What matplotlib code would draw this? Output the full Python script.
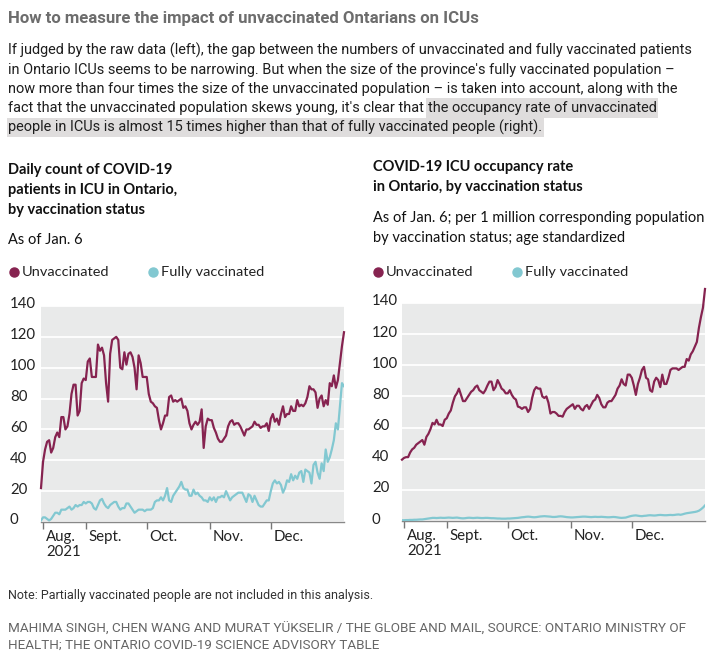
import numpy as np
import matplotlib
matplotlib.use("Agg")
import matplotlib.pyplot as plt
from matplotlib.lines import Line2D
from matplotlib.patches import Rectangle
import matplotlib.transforms as mtransforms

# ---------------- data ----------------
start_date = "2021-08-10"
end_date = "2022-01-07"  # exclusive

unvax_count = [22, 39, 47, 52, 53, 45, 48, 55, 58, 55,
               68, 68, 60, 62, 70, 83, 89, 89, 69, 72,
               90, 93, 92, 104, 106, 94, 94, 94, 115, 111,
               113, 108, 90, 78, 109, 118, 119, 120, 118, 100,
               99, 110, 102, 109, 110, 107, 100, 86, 108, 103,
               94, 94, 94, 83, 78, 77, 75, 74, 66, 60,
               64, 69, 69, 81, 82, 78, 79, 78, 79, 80,
               74, 75, 72, 64, 60, 63, 65, 63, 65, 73,
               48, 62, 67, 66, 66, 61, 58, 54, 52, 52,
               54, 56, 62, 65, 66, 63, 64, 64, 62, 59,
               56, 60, 60, 61, 62, 65, 63, 63, 61, 62,
               62, 64, 59, 67, 70, 65, 67, 63, 70, 75,
               68, 70, 70, 75, 72, 72, 79, 75, 76, 75,
               77, 81, 88, 86, 86, 84, 74, 80, 82, 75,
               79, 76, 90, 88, 95, 87, 92, 103, 114, 123]

vax_count = [1, 3, 3, 2, 1, 2, 4, 6, 6, 5,
             8, 8, 8, 9, 10, 8, 9, 11, 10, 11,
             11, 13, 12, 13, 13, 12, 9, 8, 11, 14,
             15, 12, 10, 9, 11, 12, 13, 13, 10, 8,
             9, 9, 12, 12, 10, 8, 6, 7, 8, 8,
             8, 7, 8, 8, 8, 9, 13, 14, 14, 16,
             14, 17, 22, 14, 13, 17, 19, 21, 23, 26,
             22, 21, 21, 17, 17, 21, 18, 19, 17, 16,
             14, 14, 13, 16, 14, 16, 13, 16, 16, 17,
             16, 20, 17, 14, 16, 17, 18, 19, 19, 19,
             16, 13, 18, 17, 13, 17, 14, 11, 10, 10,
             12, 14, 14, 20, 25, 27, 25, 26, 24, 19,
             22, 27, 26, 31, 27, 30, 28, 32, 33, 26,
             34, 33, 32, 25, 37, 39, 32, 28, 38, 33,
             47, 39, 42, 47, 53, 64, 60, 75, 90, 88]

unvax_rate = [39.4, 40.5, 41, 41, 44, 46, 47, 49, 50, 51,
              52, 49, 54, 56, 59, 63, 62, 65, 62, 62,
              61, 65, 66, 69, 71, 76, 80, 82, 85, 81,
              77, 77, 79, 81, 83, 84, 86, 87, 84, 83,
              82, 84, 87, 89.5, 89.5, 84, 86, 90.5, 88, 85,
              84, 82, 82, 84, 81, 79, 78, 73.5, 73, 72,
              73, 73, 70, 72, 79, 84, 86, 85, 85, 80,
              79, 80, 76, 69, 70, 70, 69, 67.5, 67.5, 67,
              70, 72, 73, 74, 75, 72, 74, 74, 72, 71,
              73.5, 74.5, 72, 74.5, 77, 78, 81, 79, 75, 73,
              73, 76, 77, 77, 79, 81, 85, 87, 91, 88,
              87, 94, 94, 92, 87, 81, 88, 92, 97, 99,
              92, 91, 84, 83, 89.5, 92, 90.5, 86, 94, 88,
              88, 92, 97, 98, 98, 98, 97, 98, 99, 99,
              104, 103, 107, 109, 112, 115, 124, 131, 137, 149]

vax_rate = [0.5, 0.5, 0.6, 0.6, 0.7, 0.7, 0.8, 0.8, 0.9, 1.0, 1.0,
            1.2, 1.4, 1.6, 1.8, 2.0, 2.0, 1.9, 2.0, 2.1, 2.0,
            2.0, 2.1, 2.2, 2.1, 2.0, 2.1, 2.2, 2.0, 1.8, 1.7,
            1.8, 2.0, 2.1, 2.0, 1.9, 2.0, 2.1, 2.0, 1.9, 1.9,
            2.0, 2.0, 1.9, 1.8, 1.8, 1.7, 1.6, 1.6, 1.5, 1.5,
            1.5, 1.6, 1.6, 1.7, 1.8, 1.9, 2.0, 2.2, 2.4, 2.5,
            2.7, 2.8, 2.7, 2.5, 2.4, 2.5, 2.7, 2.9, 3.0, 3.1,
            3.0, 2.9, 2.8, 2.6, 2.6, 2.7, 2.9, 3.0, 2.9, 2.7,
            2.5, 2.4, 2.3, 2.3, 2.4, 2.5, 2.6, 2.7, 2.8, 2.8,
            2.7, 2.6, 2.5, 2.6, 2.7, 2.6, 2.6, 2.7, 2.6, 2.5,
            2.4, 2.4, 2.5, 2.6, 2.5, 2.3, 2.1, 2.0, 2.1, 2.2,
            2.6, 3.0, 3.3, 3.5, 3.6, 3.4, 3.2, 3.1, 3.3, 3.4,
            3.6, 3.7, 3.6, 3.5, 3.6, 3.8, 3.9, 3.8, 3.7, 3.7,
            3.8, 3.9, 3.8, 3.9, 4.1, 4.2, 4.0, 4.3, 4.7, 5.0,
            5.2, 5.4, 5.6, 5.8, 6.1, 6.6, 7.5, 8.6, 10.0]

tick_dates = ["2021-08-11", "2021-09-01", "2021-10-01", "2021-11-01", "2021-12-01"]
tick_labels = ["Aug.\n2021", "Sept.", "Oct.", "Nov.", "Dec."]
y_ticks = [0, 20, 40, 60, 80, 100, 120, 140]
series_names = ["Unvaccinated", "Fully vaccinated"]

# ---------------- style ----------------
W, H = 713, 659
MAROON = "#862350"
CYAN = "#82c8d1"
BG = "#e9eaea"
COND = ["Roboto", "DejaVu Sans"]
SANS = ["Lato", "DejaVu Sans"]

fig = plt.figure(figsize=(W / 100, H / 100), dpi=100)
fig.patch.set_facecolor("white")
r = fig.canvas.get_renderer()


def fx(x):
    return x / W


def fy(y):
    return 1 - y / H


def rect(x0, y0, x1, y1):
    return [x0 / W, 1 - y1 / H, (x1 - x0) / W, (y1 - y0) / H]


def put(x, y, s, size, **kw):
    return fig.text(fx(x), fy(y), s, size=size, va="center", **kw)


def fitted_size(s, target_w, **kw):
    t = fig.text(0, 0, s, size=10, **kw)
    w = t.get_window_extent(r).width
    t.remove()
    return 10 * target_w / w


# ---------------- header text ----------------
title = "How to measure the impact of unvaccinated Ontarians on ICUs"
ts = fitted_size(title, 472, family=COND, weight="bold")
put(8, 18, title, ts, family=COND, weight="bold", color="#6d6d6d")

body_color = "#1e1e1e"
lines = [
    "If judged by the raw data (left), the gap between the numbers of unvaccinated and fully vaccinated patients",
    "in Ontario ICUs seems to be narrowing. But when the size of the province's fully vaccinated population \u2013",
    "now more than four times the size of the unvaccinated population \u2013 is taken into account, along with the",
]
bs = fitted_size(lines[0], 685, family=COND)
ys = [50, 70, 89]
for s, y in zip(lines, ys):
    put(8, y, s, bs, family=COND, color=body_color)

t4 = put(8, 108, "fact that the unvaccinated population skews young, it's clear that ", bs,
         family=COND, color=body_color)
x_hl = t4.get_window_extent(r).x1
t4b = put(x_hl, 108, "the occupancy rate of unvaccinated", bs, family=COND, color=body_color, zorder=3)
bb4 = t4b.get_window_extent(r)
t5 = put(8, 127, "people in ICUs is almost 15 times higher than that of fully vaccinated people (right).", bs,
         family=COND, color=body_color, zorder=3)
bb5 = t5.get_window_extent(r)
HL = "#dfdddd"
fig.patches.append(Rectangle((fx(x_hl - 2), fy(117.5)), (bb4.x1 - x_hl + 4) / W, 19.5 / H,
                             transform=fig.transFigure, facecolor=HL, edgecolor="none", zorder=1))
fig.patches.append(Rectangle((fx(7), fy(137)), (bb5.x1 - 5) / W, 19.5 / H,
                             transform=fig.transFigure, facecolor=HL, edgecolor="none", zorder=1))

# ---------------- chart titles ----------------
hs = fitted_size("patients in ICU in Ontario,", 169, family=SANS, weight="bold")
for s, y in zip(["Daily count of COVID-19", "patients in ICU in Ontario,", "by vaccination status"],
                [170, 190, 210]):
    put(8, y, s, hs, family=SANS, weight="bold", color="#111111")
put(8, 240, "As of Jan. 6", hs, family=SANS, color="#111111")
for s, y in zip(["COVID-19 ICU occupancy rate", "in Ontario, by vaccination status"], [167, 187]):
    put(373, y, s, hs, family=SANS, weight="bold", color="#111111")
ss = fitted_size("As of Jan. 6; per 1 million corresponding population", 330, family=SANS)
for s, y in zip(["As of Jan. 6; per 1 million corresponding population",
                 "by vaccination status; age standardized"], [218, 238]):
    put(373, y, s, ss, family=SANS, color="#111111")

# ---------------- legends ----------------
ls = fitted_size("Unvaccinated", 87, family=SANS)


def legend(x0, y):
    xs = [x0, x0 + 139]
    for xm, name, col in zip(xs, series_names, [MAROON, CYAN]):
        fig.add_artist(Line2D([fx(xm + 5)], [fy(y)], marker="o", markersize=6.5, color=col,
                              linestyle="none", transform=fig.transFigure))
        put(xm + 13, y, name, ls, family=SANS, color="#222222")


legend(9, 272)
legend(373, 272)

# ---------------- axes ----------------
dates = np.arange(np.datetime64(start_date), np.datetime64(end_date))


def setup(ax, ylab_x):
    ax.set_facecolor(BG)
    for s in ["top", "right", "left"]:
        ax.spines[s].set_visible(False)
    ax.spines["bottom"].set_color("#888888")
    ax.spines["bottom"].set_linewidth(1.0)
    ax.set_ylim(0, 140)
    ax.set_xlim(dates[0], dates[-1])
    ax.set_yticks(y_ticks)
    ax.grid(axis="y", color="white", linewidth=1.3)
    ax.set_axisbelow(True)
    ax.tick_params(axis="y", length=0, pad=ylab_x, labelsize=10.8, labelcolor="#222222")
    for lab in ax.get_yticklabels():
        lab.set_ha("left")
        lab.set_family(SANS)
        lab.set_transform(lab.get_transform() + mtransforms.ScaledTranslation(0, 3 / 100, fig.dpi_scale_trans))
    ax.set_xticks(np.array(tick_dates, dtype="datetime64[D]"))
    ax.set_xticklabels(tick_labels)
    ax.tick_params(axis="x", length=5, width=1, color="#777777", pad=1, labelsize=10.8,
                   labelcolor="#222222")
    for lab in ax.get_xticklabels():
        lab.set_ha("left")
        lab.set_family(SANS)
        lab.set_linespacing(1.1)
        lab.set_transform(lab.get_transform() + mtransforms.ScaledTranslation(3 / 100, 0, fig.dpi_scale_trans))


ax1 = fig.add_axes(rect(41, 306, 344, 522))
setup(ax1, 31 * 0.72)
ax1.plot(dates, vax_count, color=CYAN, lw=1.6, zorder=3)
ax1.plot(dates, unvax_count, color=MAROON, lw=1.6, zorder=4, clip_on=False)

ax2 = fig.add_axes(rect(402, 303, 705, 521))
setup(ax2, 30 * 0.72)
ax2.plot(dates, vax_rate, color=CYAN, lw=1.6, zorder=3)
ax2.plot(dates, unvax_rate, color=MAROON, lw=1.6, zorder=4, clip_on=False)

# ---------------- footer ----------------
ns = fitted_size("Note: Partially vaccinated people are not included in this analysis.", 364, family=COND)
put(8, 595, "Note: Partially vaccinated people are not included in this analysis.", ns,
    family=COND, color="#333333")
credit1 = "MAHIMA SINGH, CHEN WANG AND MURAT Y\u00dcKSELIR / THE GLOBE AND MAIL, SOURCE: ONTARIO MINISTRY OF"
cs = fitted_size(credit1, 675, family=COND)
put(8, 629, credit1, cs, family=COND, color="#666666")
put(8, 645, "HEALTH; THE ONTARIO COVID-19 SCIENCE ADVISORY TABLE", cs, family=COND, color="#666666")

fig.savefig("out.png", dpi=100)
